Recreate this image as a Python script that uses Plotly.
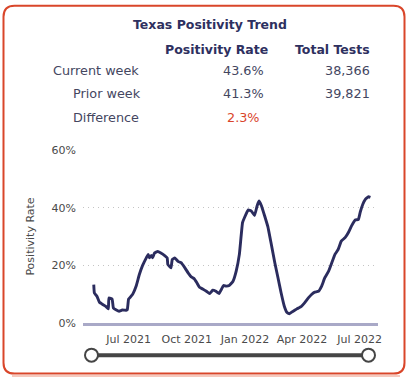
import plotly.graph_objects as go

# ---- data ----
dates = ["2021-05-07","2021-05-08","2021-05-12","2021-05-16","2021-05-20","2021-05-26","2021-05-30",
         "2021-05-31","2021-06-05","2021-06-07","2021-06-11","2021-06-16","2021-06-21","2021-06-27",
         "2021-06-29","2021-07-01","2021-07-05","2021-07-08","2021-07-13","2021-07-18","2021-07-23",
         "2021-07-29","2021-08-01","2021-08-03","2021-08-06","2021-08-08","2021-08-11","2021-08-16",
         "2021-08-21","2021-08-27","2021-08-31","2021-09-01","2021-09-06","2021-09-08","2021-09-12",
         "2021-09-17","2021-09-22","2021-09-28","2021-10-03","2021-10-08","2021-10-13","2021-10-17",
         "2021-10-21","2021-10-26","2021-11-01","2021-11-06","2021-11-11","2021-11-16","2021-11-21",
         "2021-11-24","2021-11-28","2021-12-02","2021-12-07","2021-12-13","2021-12-18","2021-12-23",
         "2021-12-28","2021-12-31","2022-01-06","2022-01-11","2022-01-16","2022-01-20","2022-01-23",
         "2022-01-27","2022-02-01","2022-02-06","2022-02-11","2022-02-17","2022-02-22","2022-02-27",
         "2022-03-04","2022-03-08","2022-03-12","2022-03-18","2022-03-24","2022-03-31","2022-04-05",
         "2022-04-11","2022-04-16","2022-04-21","2022-04-27","2022-05-02","2022-05-07","2022-05-13",
         "2022-05-18","2022-05-23","2022-05-28","2022-06-02","2022-06-08","2022-06-13","2022-06-18",
         "2022-06-24","2022-06-29","2022-07-02","2022-07-06","2022-07-10","2022-07-15","2022-07-18"]
positivity = [13.3,10.4,9.3,7.2,6.6,5.8,4.9,
              8.7,8.3,5.2,4.6,4.1,4.5,4.4,
              4.6,8.3,9.3,10.2,12.8,16.8,19.9,
              22.6,23.8,22.6,23.4,22.6,24.3,24.8,
              24.3,23.4,22.6,20.3,19.1,22.0,22.6,
              21.4,20.9,19.1,17.4,16.0,15.3,13.9,
              12.4,11.8,11.0,10.2,11.4,11.0,10.2,
              11.4,13.0,12.8,13.0,14.5,18.0,23.8,
              34.8,36.5,39.2,38.8,37.3,40.6,42.3,
              40.6,37.1,33.4,27.8,20.9,15.7,10.4,
              5.8,3.7,3.2,4.1,4.9,5.8,7.0,
              8.7,9.9,10.7,11.0,12.8,15.7,18.0,
              20.9,23.8,25.5,28.4,29.6,31.3,33.6,
              35.7,35.9,38.5,41.2,42.9,43.8,43.6]

tick_dates = ["2021-07-01", "2021-10-01", "2022-01-01", "2022-04-01", "2022-07-01"]
tick_labels = ["Jul 2021", "Oct 2021", "Jan 2022", "Apr 2022", "Jul 2022"]
y_ticks = [0, 20, 40, 60]
y_tick_labels = ["0%", "20%", "40%", "60%"]

title_text = "Texas Positivity Trend"
col_headers = ["Positivity Rate", "Total Tests"]
row_labels = ["Current week", "Prior week", "Difference"]
rate_values = ["43.6%", "41.3%", "2.3%"]
test_values = ["38,366", "39,821", ""]

# ---- layout geometry (pixels) ----
W, H = 408, 379
L, R, T, B = 83, 378, 150, 323.3
pw, ph = R - L, B - T

def px(x):
    return (x - L) / pw

def py(y):
    return (B - y) / ph

FONT = "DejaVu Sans"
NAVY = "#2e3060"
TXT = "#44465f"
AX = "#4a4a4a"

fig = go.Figure()
fig.add_trace(go.Scatter(x=dates, y=positivity, mode="lines",
                         line=dict(color="#2b2c5e", width=2.9, shape="spline", smoothing=0.3),
                         hoverinfo="skip", showlegend=False))

annotations = []
annotations.append(dict(text=f"<b>{title_text}</b>", x=px(210), y=py(24), xref="paper", yref="paper",
                        xanchor="center", yanchor="middle", showarrow=False,
                        font=dict(family=FONT, size=12.5, color=NAVY)))
for hdr, xr in zip(col_headers, [269.5, 371.5]):
    annotations.append(dict(text=f"<b>{hdr}</b>", x=px(xr), y=py(49.5), xref="paper", yref="paper",
                            xanchor="right", yanchor="middle", showarrow=False,
                            font=dict(family=FONT, size=12.5, color=NAVY)))
row_y = [70, 93.5, 117.5]
label_x = [141, 142.5, 140.5]
for i, lab in enumerate(row_labels):
    annotations.append(dict(text=lab, x=px(label_x[i]), y=py(row_y[i]), xref="paper", yref="paper",
                            xanchor="right", yanchor="middle", showarrow=False,
                            font=dict(family=FONT, size=12.8, color=TXT)))
    rc = "#d9452b" if i == 2 else TXT
    rx = 261.5 if i == 2 else 266
    annotations.append(dict(text=rate_values[i], x=px(rx), y=py(row_y[i]), xref="paper", yref="paper",
                            xanchor="right", yanchor="middle", showarrow=False,
                            font=dict(family=FONT, size=12.8, color=rc)))
    if test_values[i]:
        annotations.append(dict(text=test_values[i], x=px(372), y=py(row_y[i]), xref="paper", yref="paper",
                                xanchor="right", yanchor="middle", showarrow=False,
                                font=dict(family=FONT, size=12.8, color=TXT)))

# rounded border
x0b, y0b, x1b, y1b, r = 3.5, 5.5, 404.5, 374, 11
path = (f"M {px(x0b+r)},{py(y0b)} L {px(x1b-r)},{py(y0b)} Q {px(x1b)},{py(y0b)} {px(x1b)},{py(y0b+r)} "
        f"L {px(x1b)},{py(y1b-r)} Q {px(x1b)},{py(y1b)} {px(x1b-r)},{py(y1b)} "
        f"L {px(x0b+r)},{py(y1b)} Q {px(x0b)},{py(y1b)} {px(x0b)},{py(y1b-r)} "
        f"L {px(x0b)},{py(y0b+r)} Q {px(x0b)},{py(y0b)} {px(x0b+r)},{py(y0b)} Z")
shapes = [
    dict(type="line", xref="paper", yref="paper", x0=px(12), x1=px(400), y0=py(376.5), y1=py(376.5),
         line=dict(color="#f6c9bd", width=2)),
    dict(type="path", xref="paper", yref="paper", path=path, line=dict(color="#d9462a", width=2),
         fillcolor="rgba(0,0,0,0)"),
    # slider track
    dict(type="line", xref="paper", yref="paper", x0=px(92), x1=px(368), y0=py(355.5), y1=py(355.5),
         line=dict(color="#454545", width=4)),
]
for cx in [91.5, 368.5]:
    shapes.append(dict(type="circle", xref="paper", yref="paper", xsizemode="pixel", ysizemode="pixel",
                       xanchor=px(cx), yanchor=py(355.5), x0=-6.5, x1=6.5, y0=-6.5, y1=6.5,
                       fillcolor="white", line=dict(color="#454545", width=2)))

fig.update_layout(
    width=W, height=H,
    margin=dict(l=L, r=W - R, t=T, b=H - B),
    paper_bgcolor="white", plot_bgcolor="white",
    font=dict(family=FONT, size=11, color=AX),
    xaxis=dict(type="date", range=["2021-04-20", "2022-07-30"],
               tickvals=tick_dates, ticktext=tick_labels, showgrid=False, zeroline=False,
               showline=True, linecolor="#a9a9c7", linewidth=3, ticks="",
               tickfont=dict(family=FONT, size=11, color=AX), ticklabelstandoff=4),
    yaxis=dict(range=[0, 60], tickvals=y_ticks, ticktext=y_tick_labels,
               showgrid=True, gridcolor="#c4c4c4", griddash="1px,4px", gridwidth=1,
               zeroline=False, showline=False, ticks="",
               tickfont=dict(family=FONT, size=11, color=AX), ticklabelstandoff=6,
               title=dict(text="Positivity Rate", font=dict(family=FONT, size=11, color=AX), standoff=14)),
    annotations=annotations,
    shapes=shapes,
)

fig.write_html("out.html", config={"displayModeBar": False},
               post_script="document.body.style.margin='0';document.body.style.padding='0';"
                           "document.body.style.overflow='hidden';")
